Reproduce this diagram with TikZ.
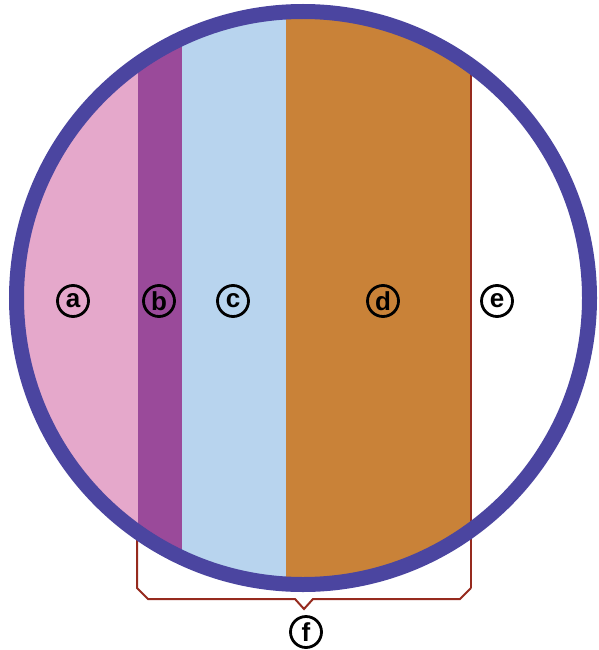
\documentclass[tikz,border=0pt]{standalone}
\usepackage{fontspec}
\setsansfont{Liberation Sans}
\usepackage{tikz}
\usetikzlibrary{positioning}
\usepackage{xcolor}

\definecolor{rimblue}{HTML}{4B45A0}
\definecolor{pinkzone}{HTML}{E5A8CB}
\definecolor{purplezone}{HTML}{9A4A9A}
\definecolor{bluezone}{HTML}{B8D4EE}
\definecolor{orangezone}{HTML}{C98238}
\definecolor{bracketred}{HTML}{962A1E}

\tikzset{
    tag/.style={circle, draw=black, line width=2.8pt, inner sep=0pt,
        minimum size=31pt, font=\sffamily\bfseries\fontsize{26}{26}\selectfont, text=black}
}

\begin{document}
\begin{tikzpicture}[x=1pt, y=-1pt]
    \useasboundingbox (0,0) rectangle (598,650);

    % Zones inside the disc
    \begin{scope}
        \clip (303,298) circle (286.5);
        \fill[pinkzone] (0,0) rectangle (138,600);
        \fill[purplezone] (138,0) rectangle (182,600);
        \fill[bluezone] (182,0) rectangle (286,600);
        \fill[orangezone] (286,0) rectangle (471,600);
    \end{scope}

    % Boundary line and bracket
    \coordinate (topright) at (471,66);
    \coordinate (lefttop) at (137,540);
    \coordinate (leftknee) at (137,588);
    \coordinate (leftfoot) at (148,599);
    \coordinate (notchleft) at (295,599);
    \coordinate (notchtip) at (304,609);
    \coordinate (notchright) at (313,599);
    \coordinate (rightfoot) at (460,599);
    \coordinate (rightknee) at (471,588);
    \draw[bracketred, line width=2.5pt] (topright) -- (rightknee);
    \draw[bracketred, line width=2pt, line join=miter]
        (lefttop) -- (leftknee) -- (leftfoot) -- (notchleft) -- (notchtip)
        -- (notchright) -- (rightfoot) -- (rightknee);

    % Rim
    \draw[rimblue, line width=15pt] (303,298) circle (286.5);

    % Labels
    \node[tag] (a) at (73,301) {a};
    \node[tag] (b) at (159,301) {b};
    \node[tag] (c) at (233,301) {c};
    \node[tag] (d) at (383,301) {d};
    \node[tag] (e) at (497,301) {e};
    \node[tag] (f) at (306,632) {f};
\end{tikzpicture}
\end{document}
